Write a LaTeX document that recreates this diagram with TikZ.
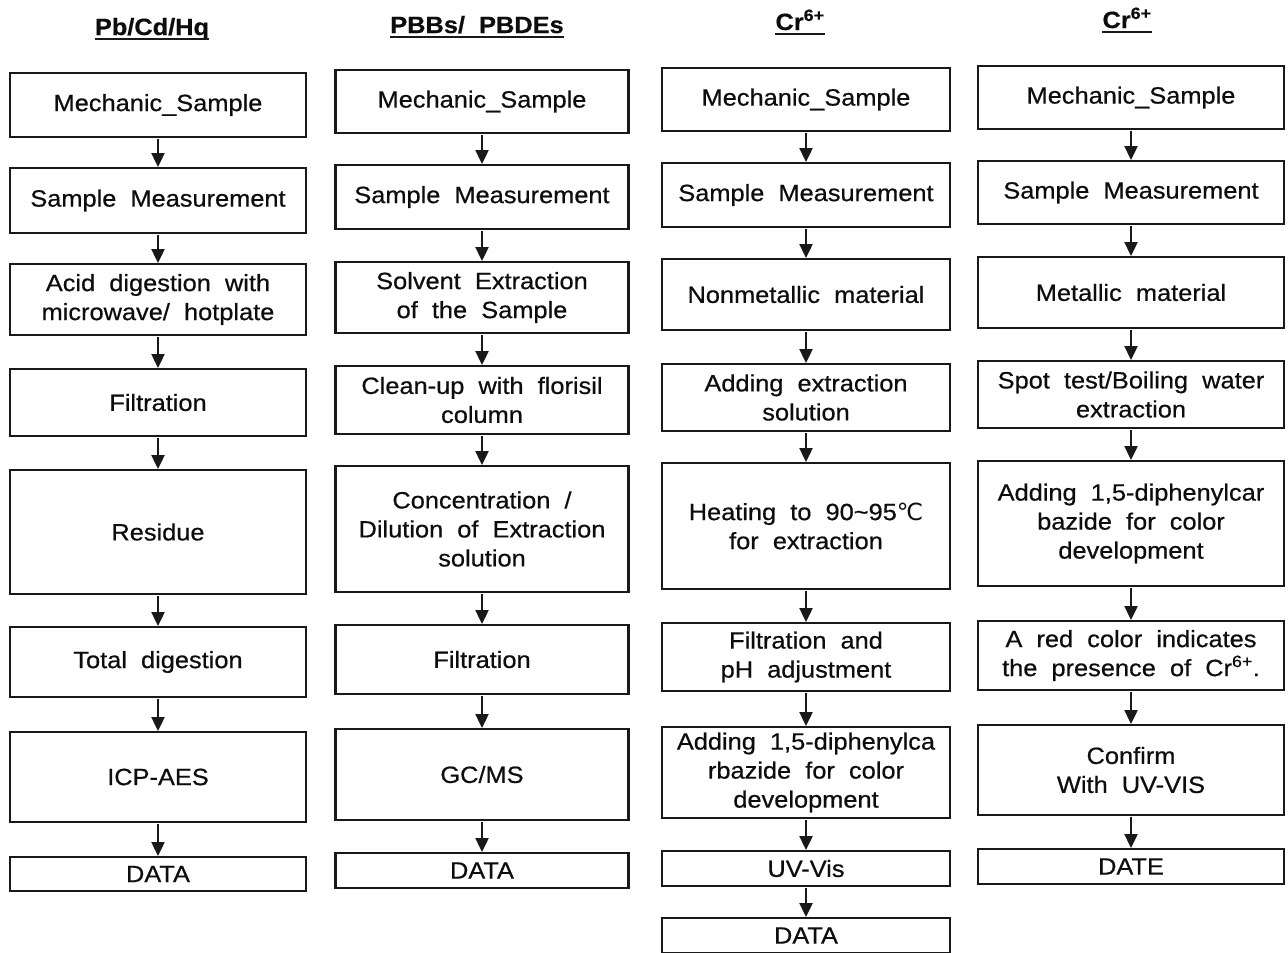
\documentclass[tikz,border=0pt]{standalone}
\usepackage{fontspec}
\setmainfont{Liberation Sans}[FakeStretch=1.08, WordSpace=2, FakeBold=0.6]
\newfontfamily\degfont{DejaVu Sans}
\usepackage{tikz}
\usetikzlibrary{arrows.meta, positioning}
\newcommand{\boxfont}{\fontsize{23.5}{29}\selectfont}
\tikzset{
  procbox/.style={rectangle, draw=black!90, line width=2.6pt, outer sep=0pt, inner sep=2pt, align=center, text=black!95, font=\boxfont},
  colA/.style={procbox, minimum width=296pt},
  colB/.style={procbox, minimum width=293pt},
  colC/.style={procbox, minimum width=288pt},
  colD/.style={procbox, minimum width=306pt},
  headline/.style={font=\boxfont\bfseries, text=black!95, inner sep=0pt, anchor=base},
  flowarrow/.style={-{Triangle[width=13pt,length=14pt]}, line width=2.4pt, draw=black!90, shorten <=2pt, shorten >=1pt},
}

\begin{document}
\begin{tikzpicture}[x=1pt, y=-1pt]
  \useasboundingbox (0,0) rectangle (1288,953);

  % headers
  \node[headline] (hPb) at (152,35) {Pb/Cd/Hq};
  \node[headline] (hPbb) at (477,33) {PBBs/ PBDEs};
  \node[headline] (hCrA) at (800,30) {Cr\textsuperscript{6+}};
  \node[headline] (hCrB) at (1127,28) {Cr\textsuperscript{6+}};
  \foreach \h in {hPb, hPbb, hCrA, hCrB}
    \draw[line width=2.6pt, black!90] ([yshift=-4pt]\h.base west) -- ([yshift=-4pt]\h.base east);

  % Pb/Cd/Hg column
  \node[colA, minimum height=64pt] (pbSample) at (158,105) {Mechanic\_Sample};
  \node[colA, minimum height=65pt, below=31pt of pbSample] (pbMeasure) {Sample Measurement};
  \node[colA, minimum height=71pt, below=31pt of pbMeasure] (pbDigest) {Acid digestion with\\microwave/ hotplate};
  \node[colA, minimum height=67pt, below=34pt of pbDigest] (pbFilter) {Filtration};
  \node[colA, minimum height=124pt, below=34pt of pbFilter] (pbResidue) {Residue};
  \node[colA, minimum height=70pt, below=33pt of pbResidue] (pbTotal) {Total digestion};
  \node[colA, minimum height=90pt, below=35pt of pbTotal] (pbIcp) {ICP-AES};
  \node[colA, minimum height=34pt, below=35pt of pbIcp] (pbData) {DATA};

  % PBBs/PBDEs column
  \node[colB, minimum height=63pt] (brSample) at (482,101.5) {Mechanic\_Sample};
  \node[colB, minimum height=64pt, below=32pt of brSample] (brMeasure) {Sample Measurement};
  \node[colB, minimum height=71pt, below=33pt of brMeasure] (brSolvent) {Solvent Extraction\\of the Sample};
  \node[colB, minimum height=68pt, below=33pt of brSolvent] (brClean) {Clean-up with florisil\\column};
  \node[colB, minimum height=126pt, below=32pt of brClean] (brConc) {Concentration /\\Dilution of Extraction\\solution};
  \node[colB, minimum height=69pt, below=33pt of brConc] (brFilter) {Filtration};
  \node[colB, minimum height=91pt, below=35pt of brFilter] (brGcms) {GC/MS};
  \node[colB, minimum height=35pt, below=33pt of brGcms] (brData) {DATA};

  % Cr6+ nonmetallic column
  \node[colC, minimum height=63pt] (nmSample) at (806,99.5) {Mechanic\_Sample};
  \node[colC, minimum height=64pt, below=32pt of nmSample] (nmMeasure) {Sample Measurement};
  \node[colC, minimum height=71pt, below=32pt of nmMeasure] (nmMaterial) {Nonmetallic material};
  \node[colC, minimum height=67pt, below=34pt of nmMaterial] (nmSolution) {Adding extraction\\solution};
  \node[colC, minimum height=126pt, below=32pt of nmSolution] (nmHeat) {Heating to 90\textasciitilde95{\degfont ℃}\\for extraction};
  \node[colC, minimum height=68pt, below=34pt of nmHeat] (nmFilter) {Filtration and\\pH adjustment};
  \node[colC, minimum height=91pt, below=36pt of nmFilter] (nmColor) {Adding 1,5-diphenylca\\rbazide for color\\development};
  \node[colC, minimum height=35pt, below=33pt of nmColor] (nmUv) {UV-Vis};
  \node[colC, minimum height=35pt, below=32pt of nmUv] (nmData) {DATA};

  % Cr6+ metallic column
  \node[colD, minimum height=63pt] (mtSample) at (1131,97.5) {Mechanic\_Sample};
  \node[colD, minimum height=63pt, below=32pt of mtSample] (mtMeasure) {Sample Measurement};
  \node[colD, minimum height=71pt, below=33pt of mtMeasure] (mtMaterial) {Metallic material};
  \node[colD, minimum height=67pt, below=33pt of mtMaterial] (mtSpot) {Spot test/Boiling water\\extraction};
  \node[colD, minimum height=125pt, below=33pt of mtSpot] (mtColor) {Adding 1,5-diphenylcar\\bazide for color\\development};
  \node[colD, minimum height=69pt, below=35pt of mtColor] (mtRed) {A red color indicates\\the presence of Cr\textsuperscript{6+}.};
  \node[colD, minimum height=90pt, below=35pt of mtRed] (mtConfirm) {Confirm\\With UV-VIS};
  \node[colD, minimum height=35pt, below=34pt of mtConfirm] (mtDate) {DATE};

  % arrows
  \foreach \a/\b in {pbSample/pbMeasure, pbMeasure/pbDigest, pbDigest/pbFilter, pbFilter/pbResidue,
                     pbResidue/pbTotal, pbTotal/pbIcp, pbIcp/pbData,
                     brSample/brMeasure, brMeasure/brSolvent, brSolvent/brClean, brClean/brConc,
                     brConc/brFilter, brFilter/brGcms, brGcms/brData,
                     nmSample/nmMeasure, nmMeasure/nmMaterial, nmMaterial/nmSolution, nmSolution/nmHeat,
                     nmHeat/nmFilter, nmFilter/nmColor, nmColor/nmUv, nmUv/nmData,
                     mtSample/mtMeasure, mtMeasure/mtMaterial, mtMaterial/mtSpot, mtSpot/mtColor,
                     mtColor/mtRed, mtRed/mtConfirm, mtConfirm/mtDate}
    \draw[flowarrow] (\a) -- (\b);
\end{tikzpicture}
\end{document}
